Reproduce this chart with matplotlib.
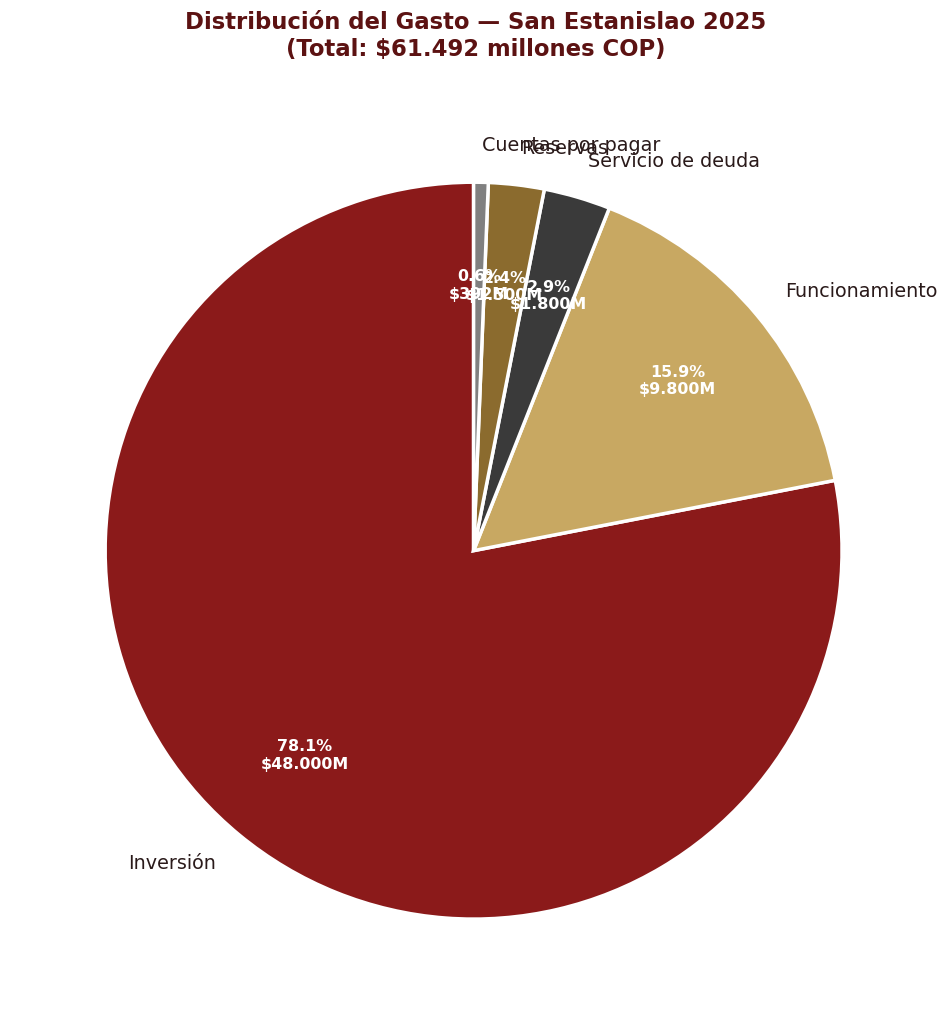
import matplotlib
matplotlib.use("Agg")
import matplotlib.pyplot as plt

# Spending distribution, millions COP
categories = ["Inversión", "Funcionamiento", "Servicio de deuda", "Reservas", "Cuentas por pagar"]
values = [48000, 9800, 1800, 1500, 392]
colors = ["#8B1A1A", "#C8A862", "#3A3A3A", "#8B6B2E", "#808080"]

total = sum(values)


def fmt_money(v):
    return "${:,.0f}M".format(v).replace(",", ".")


def autopct(p):
    v = p * total / 100.0
    return f"{p:.1f}%\n{fmt_money(round(v))}"


fig = plt.figure(figsize=(9.51, 10.24), dpi=100)
ax = fig.add_axes([0.0135, 0.0125, 0.969, 0.8995])

wedges, texts, autotexts = ax.pie(
    values,
    labels=categories,
    colors=colors,
    startangle=90,
    autopct=autopct,
    pctdistance=0.72,
    labeldistance=1.1,
    wedgeprops=dict(edgecolor="white", linewidth=2.5),
    textprops=dict(fontsize=13.8, color="#2a1a1a"),
)
for t in autotexts:
    t.set_color("white")
    t.set_fontweight("bold")
    t.set_fontsize(11.4)

ax.set_aspect("equal")

fig.suptitle("Distribución del Gasto — San Estanislao 2025\n(Total: $61.492 millones COP)",
             fontsize=16.4, fontweight="bold", color="#5C1212", y=0.989, va="top")

fig.savefig("out.png", dpi=100)
